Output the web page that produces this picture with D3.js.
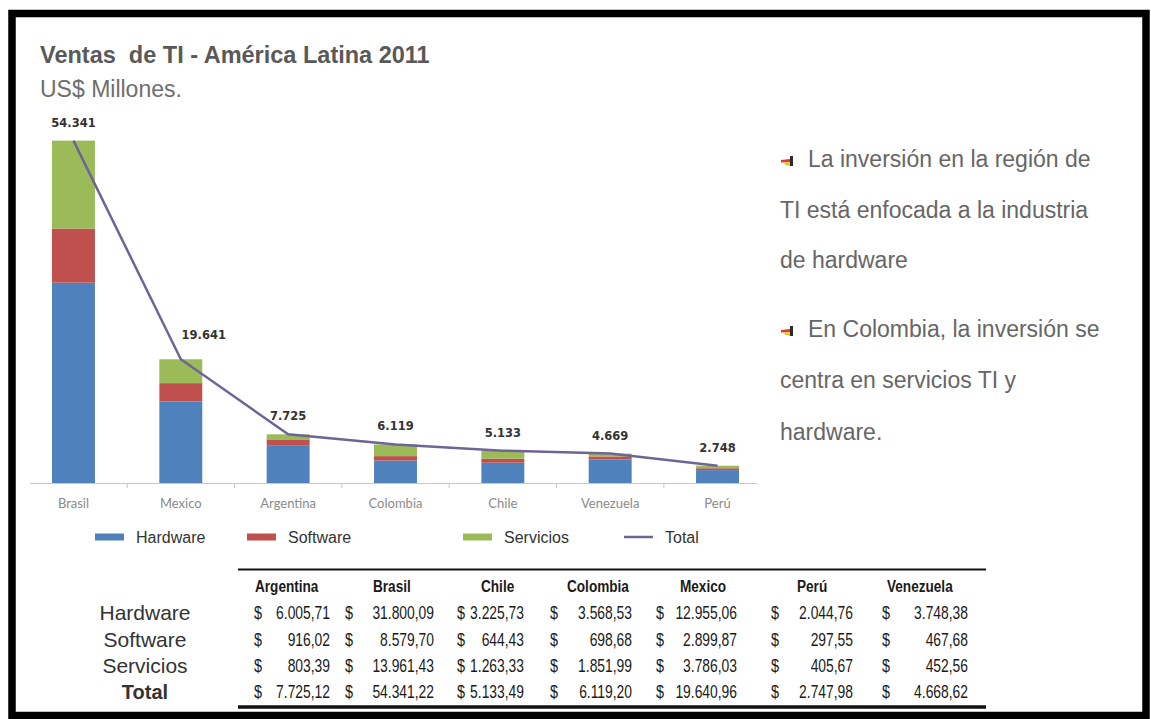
<!DOCTYPE html>
<html>
<head>
<meta charset="utf-8">
<script src="https://cdn.jsdelivr.net/npm/d3@7"></script>
<style>
  html, body { margin: 0; padding: 0; background: #ffffff; }
  svg { display: block; }
</style>
</head>
<body>
<svg id="chart" width="1151" height="719"></svg>
<script>
// Ventas de TI en América Latina 2011 (US$ millones)
const countries = ["Argentina", "Brasil", "Chile", "Colombia", "Mexico", "Perú", "Venezuela"];
const hardware  = [6005.71, 31800.09, 3225.73, 3568.53, 12955.06, 2044.76, 3748.38];
const software  = [916.02, 8579.70, 644.43, 698.68, 2899.87, 297.55, 467.68];
const servicios = [803.39, 13961.43, 1263.33, 1851.99, 3786.03, 405.67, 452.56];
const totals    = [7725.12, 54341.22, 5133.49, 6119.20, 19640.96, 2747.98, 4668.62];

// order of the columns in the chart (largest market first)
const chartOrder = ["Brasil", "Mexico", "Argentina", "Colombia", "Chile", "Venezuela", "Perú"];
const seriesNames = ["Hardware", "Software", "Servicios"];
const rowLabels = ["Hardware", "Software", "Servicios", "Total"];
const notes = [
  ["La inversión en la región de", "TI está enfocada a la industria", "de hardware"],
  ["En Colombia, la inversión se", "centra en servicios TI y", "hardware."]
];

const colors = { Hardware: "#4f81bd", Software: "#c0504d", Servicios: "#9bbb59", Total: "#6f6496" };

const es = d3.formatLocale({ decimal: ",", thousands: ".", grouping: [3], currency: ["$", ""] });
const fmtInt = es.format(",.0f");
const fmt2 = es.format(",.2f");

const svg = d3.select("#chart");
const sans = "Liberation Sans, Arial, sans-serif";

// ---- frame ----
svg.append("rect").attr("x", 12).attr("y", 13.5).attr("width", 1134).attr("height", 702)
  .attr("fill", "#fff").attr("stroke", "#000").attr("stroke-width", 7.5);

// ---- titles ----
svg.append("text").attr("x", 40).attr("y", 63)
  .style("white-space", "pre")
  .attr("font-family", sans).attr("font-weight", "bold")
  .attr("font-size", 23.5).attr("fill", "#595959")
  .text("Ventas  de TI - América Latina 2011");
svg.append("text").attr("x", 40).attr("y", 97)
  .attr("font-family", sans)
  .attr("font-size", 23).attr("fill", "#6e6e6e")
  .text("US$ Millones.");

// ---- data rows for the chart ----
const rows = chartOrder.map(c => {
  const i = countries.indexOf(c);
  return { country: c, Hardware: hardware[i], Software: software[i], Servicios: servicios[i], Total: totals[i] };
});

const x = d3.scaleBand().domain(chartOrder).range([30, 761]).paddingInner(0.6).paddingOuter(0.205);
const y = d3.scaleLinear().domain([0, 60000]).range([483, 105]);

const stack = d3.stack().keys(seriesNames)(rows);

const gBars = svg.append("g");
gBars.selectAll("g").data(stack).join("g")
  .attr("fill", d => colors[d.key])
  .selectAll("rect").data(d => d).join("rect")
  .attr("x", d => x(d.data.country))
  .attr("width", x.bandwidth())
  .attr("y", d => y(d[1]))
  .attr("height", d => y(d[0]) - y(d[1]));

// category axis
const axisY = y(0);
svg.append("line").attr("x1", x.range()[0]).attr("x2", x.range()[1] - 4)
  .attr("y1", axisY + 0.5).attr("y2", axisY + 0.5)
  .attr("stroke", "#c8c8c8").attr("stroke-width", 1);
const step = x.step();
const boundaries = chartOrder.slice(1).map(c => x(c) - (step - x.bandwidth()) / 2);
svg.selectAll(".tickmark").data(boundaries).join("line").attr("class", "tickmark")
  .attr("x1", d => d).attr("x2", d => d)
  .attr("y1", axisY).attr("y2", axisY + 5)
  .attr("stroke", "#c8c8c8");

const gAxis = svg.append("g").attr("transform", `translate(0,${axisY})`)
  .call(d3.axisBottom(x).tickSize(0).tickPadding(16));
gAxis.select(".domain").remove();
gAxis.selectAll("text")
  .attr("font-family", "Lato, 'Open Sans', sans-serif")
  .attr("font-size", 13).attr("fill", "#8a8a8a");

// total line
const cx = c => x(c) + x.bandwidth() / 2;
svg.append("path").datum(rows)
  .attr("fill", "none").attr("stroke", colors.Total).attr("stroke-width", 2.5)
  .attr("d", d3.line().x(d => cx(d.country)).y(d => y(d.Total)));

// total labels
const labelNudge = { Mexico: [23, -6] };
svg.selectAll(".vlabel").data(rows).join("text").attr("class", "vlabel")
  .attr("x", d => cx(d.country) + (labelNudge[d.country] ? labelNudge[d.country][0] : 0))
  .attr("y", d => y(d.Total) - 14 + (labelNudge[d.country] ? labelNudge[d.country][1] : 0))
  .attr("text-anchor", "middle")
  .attr("font-family", "DejaVu Sans, sans-serif").attr("font-weight", "bold")
  .attr("font-size", 11.5).attr("fill", "#333")
  .text(d => fmtInt(d.Total));

// ---- legend ----
const legendItems = [
  { name: "Hardware", x: 95 },
  { name: "Software", x: 247 },
  { name: "Servicios", x: 463 },
  { name: "Total", x: 624 }
];
const legY = 537;
const gLeg = svg.append("g");
legendItems.forEach(it => {
  if (it.name === "Total") {
    gLeg.append("line").attr("x1", it.x).attr("x2", it.x + 29)
      .attr("y1", legY).attr("y2", legY)
      .attr("stroke", colors.Total).attr("stroke-width", 2.5);
  } else {
    gLeg.append("rect").attr("x", it.x).attr("y", legY - 3.5)
      .attr("width", 29).attr("height", 7).attr("fill", colors[it.name]);
  }
  gLeg.append("text").attr("x", it.x + 41).attr("y", legY + 5.5)
    .attr("font-family", sans)
    .attr("font-size", 16).attr("fill", "#333")
    .text(it.name);
});

// ---- notes on the right ----
const noteLines = [167, 218, 268, 337, 388, 440];
const gNotes = svg.append("g")
  .attr("font-family", sans)
  .attr("font-size", 23).attr("fill", "#666");
let li = 0;
notes.forEach(par => {
  par.forEach((line, j) => {
    const yy = noteLines[li++];
    gNotes.append("text").attr("x", j === 0 ? 808 : 780).attr("y", yy).text(line);
    if (j === 0) {
      const b = gNotes.append("g").attr("transform", `translate(781,${yy - 12})`);
      b.append("path").attr("d", "M0,5 L9,4 L9,7 L0,7.5 Z").attr("fill", "#d2402c");
      b.append("path").attr("d", "M3,7.5 L10,7 L10,11 L4,10 Z").attr("fill", "#f2c12e");
      b.append("path").attr("d", "M9,1 L12,1 L12,11 L9,11 Z").attr("fill", "#2b2b2b");
    }
  });
});

// ---- data table ----
const tableCols = [
  { dollar: 254, right: 330, header: 255 },
  { dollar: 345, right: 434, header: 373 },
  { dollar: 457, right: 524, header: 481 },
  { dollar: 550, right: 632, header: 567 },
  { dollar: 656, right: 737, header: 680 },
  { dollar: 771, right: 853, header: 797 },
  { dollar: 882, right: 968, header: 887 }
];
const rowY = [613, 640, 666, 692];
const headerY = 586;
const tableSeries = [hardware, software, servicios, totals];

// write a horizontally condensed text anchored at (px, py)
function narrowText(g, px, py, txt, opts) {
  return g.append("text")
    .attr("transform", `translate(${px},${py}) scale(${opts.squeeze},1)`)
    .attr("text-anchor", opts.anchor || "start")
    .attr("font-family", sans)
    .attr("font-weight", opts.bold ? "bold" : "normal")
    .attr("font-size", opts.size).attr("fill", "#1a1a1a")
    .text(txt);
}

svg.append("line").attr("x1", 238).attr("x2", 986).attr("y1", 569.5).attr("y2", 569.5)
  .attr("stroke", "#111").attr("stroke-width", 2);
svg.append("line").attr("x1", 238).attr("x2", 986).attr("y1", 707).attr("y2", 707)
  .attr("stroke", "#111").attr("stroke-width", 3.5);

const gTab = svg.append("g");
countries.forEach((c, ci) => {
  const col = tableCols[ci];
  narrowText(gTab, col.header, headerY + 6, c, { size: 17, bold: true, squeeze: 0.8 });
  tableSeries.forEach((arr, ri) => {
    narrowText(gTab, col.dollar, rowY[ri] + 6, "$", { size: 18, squeeze: 0.8 });
    narrowText(gTab, col.right, rowY[ri] + 6, fmt2(arr[ci]), { size: 18, anchor: "end", squeeze: 0.77 });
  });
});
rowLabels.forEach((r, ri) => {
  gTab.append("text").attr("x", 145).attr("y", rowY[ri] + 7)
    .attr("text-anchor", "middle")
    .attr("font-family", sans)
    .attr("font-weight", r === "Total" ? "bold" : "normal")
    .attr("font-size", r === "Total" ? 20 : 21).attr("fill", "#333")
    .text(r);
});
</script>
</body>
</html>
